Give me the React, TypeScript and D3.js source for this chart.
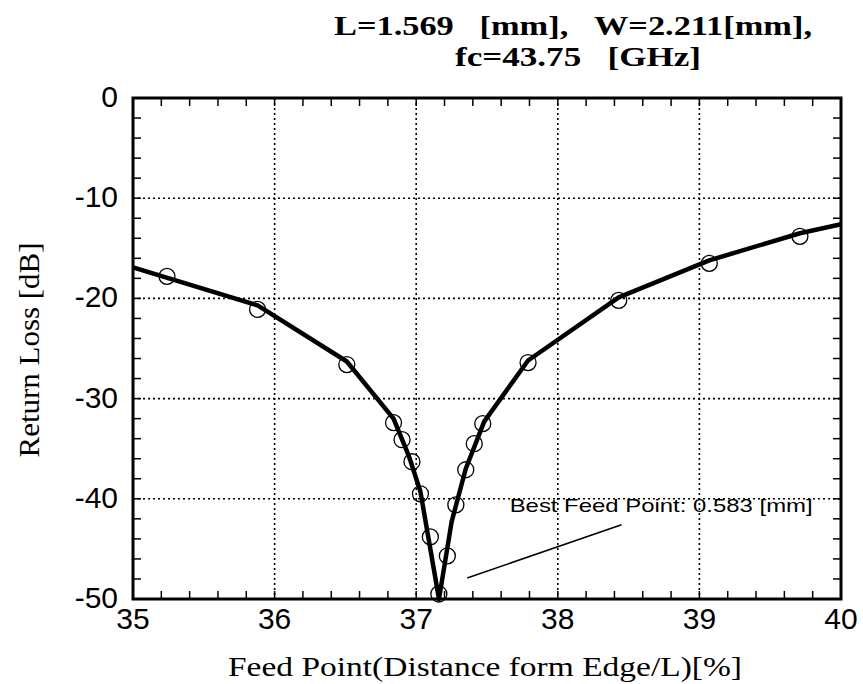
import React from "react";
import * as d3 from "d3";

// Measured data points (circles)
const pointX = [35.24, 35.88, 36.51, 36.84, 36.90, 36.97, 37.03, 37.10, 37.16, 37.22, 37.28, 37.35, 37.41, 37.47, 37.79, 38.43, 39.07, 39.71];
const pointY = [-17.8, -21.1, -26.6, -32.4, -34.1, -36.3, -39.5, -43.8, -49.5, -45.7, -40.6, -37.1, -34.5, -32.5, -26.4, -20.2, -16.5, -13.8];

// Fitted curve
const lineX = [35.0, 35.88, 36.51, 36.84, 36.95, 37.03, 37.161, 37.25, 37.35, 37.48, 37.79, 38.43, 39.07, 39.71, 40.0];
const lineY = [-16.9, -20.7, -26.3, -32.0, -35.8, -39.3, -50, -42.3, -37.0, -32.3, -26.2, -19.9, -16.2, -13.5, -12.6];

const xTicks = [35, 36, 37, 38, 39, 40];
const yTicks = [0, -10, -20, -30, -40, -50];

const titleLines = ["L=1.569\u00A0\u00A0\u00A0[mm],\u00A0\u00A0\u00A0W=2.211[mm],", "fc=43.75\u00A0\u00A0\u00A0[GHz]"];
const xLabel = "Feed Point(Distance form Edge/L)[%]";
const yLabel = "Return Loss [dB]";
const annotText = "Best Feed Point: 0.583 [mm]";
const annotLine = [[37.36, -47.9], [38.45, -42.6]];
const annotPos = [37.66, -41.3];

export default function App() {
  const W = 863, H = 684;
  const left = 133, right = 841, top = 98, bottom = 599;
  const x = d3.scaleLinear().domain([35, 40]).range([left, right]);
  const y = d3.scaleLinear().domain([-50, 0]).range([bottom, top]);

  const minorX = d3.range(35, 40.001, 0.2);
  const minorY = d3.range(-50, 0.001, 2);

  const line = d3.line<number>()
    .x((_, i) => x(lineX[i]))
    .y((_, i) => y(lineY[i]))
    .curve(d3.curveLinear);

  const tickLen = 8;
  const serif = "'Liberation Serif', 'Times New Roman', serif";
  const sans = "'Liberation Sans', Arial, sans-serif";
  return (
    <svg width={W} height={H} style={{ position: "absolute", left: 0, top: 0, background: "#fff" }}>
      <rect x={0} y={0} width={W} height={H} fill="#fff" />
      {/* title */}
      <g fontFamily={serif} fontWeight="bold" fontSize={27} fill="#000">
        <text x={334} y={35} textLength={478} lengthAdjust="spacingAndGlyphs">{titleLines[0]}</text>
        <text x={455} y={66} textLength={246} lengthAdjust="spacingAndGlyphs">{titleLines[1]}</text>
      </g>
      {/* grid */}
      <g stroke="#000" strokeWidth={1.6} strokeDasharray="2,3">
        {xTicks.slice(1, -1).map(t => (
          <line key={"gx" + t} x1={x(t)} x2={x(t)} y1={top} y2={bottom} />
        ))}
        {yTicks.slice(1, -1).map(t => (
          <line key={"gy" + t} x1={left} x2={right} y1={y(t)} y2={y(t)} />
        ))}
      </g>
      {/* minor ticks */}
      <g stroke="#000" strokeWidth={1.5}>
        {minorX.map((t, i) => (
          <g key={"mx" + i}>
            <line x1={x(t)} x2={x(t)} y1={bottom} y2={bottom - tickLen} />
            <line x1={x(t)} x2={x(t)} y1={top} y2={top + tickLen} />
          </g>
        ))}
        {minorY.map((t, i) => (
          <g key={"my" + i}>
            <line x1={left} x2={left + tickLen} y1={y(t)} y2={y(t)} />
            <line x1={right} x2={right - tickLen} y1={y(t)} y2={y(t)} />
          </g>
        ))}
      </g>
      {/* frame */}
      <rect x={left} y={top} width={right - left} height={bottom - top} fill="none" stroke="#000" strokeWidth={3} />
      {/* tick labels */}
      <g fontFamily={sans} fontSize={30} fill="#000">
        {xTicks.map(t => (
          <text key={"xl" + t} x={x(t)} y={629} textAnchor="middle">{t}</text>
        ))}
        {yTicks.map(t => (
          <text key={"yl" + t} x={118} y={y(t) + 9} textAnchor="end">{t}</text>
        ))}
      </g>
      {/* axis titles */}
      <text x={485} y={676} textAnchor="middle" fontFamily={serif} fontSize={28} textLength={514} lengthAdjust="spacingAndGlyphs" fill="#000">{xLabel}</text>
      <text transform={`translate(39,350) rotate(-90)`} textAnchor="middle" fontFamily={serif} fontSize={30} textLength={215} lengthAdjust="spacingAndGlyphs" fill="#000">{yLabel}</text>
      {/* curve */}
      <path d={line(lineX) || ""} fill="none" stroke="#000" strokeWidth={4.5} strokeLinejoin="round" />
      {/* points */}
      <g fill="none" stroke="#000" strokeWidth={1.3}>
        {pointX.map((v, i) => (
          <circle key={"p" + i} cx={x(v)} cy={y(pointY[i])} r={8} />
        ))}
      </g>
      {/* annotation */}
      <line x1={x(annotLine[0][0])} y1={y(annotLine[0][1])} x2={x(annotLine[1][0])} y2={y(annotLine[1][1])} stroke="#000" strokeWidth={1.6} />
      <text x={x(annotPos[0])} y={y(annotPos[1])} fontFamily={sans} fontSize={19} textLength={303} lengthAdjust="spacingAndGlyphs" fill="#000">{annotText}</text>
    </svg>
  );
}
